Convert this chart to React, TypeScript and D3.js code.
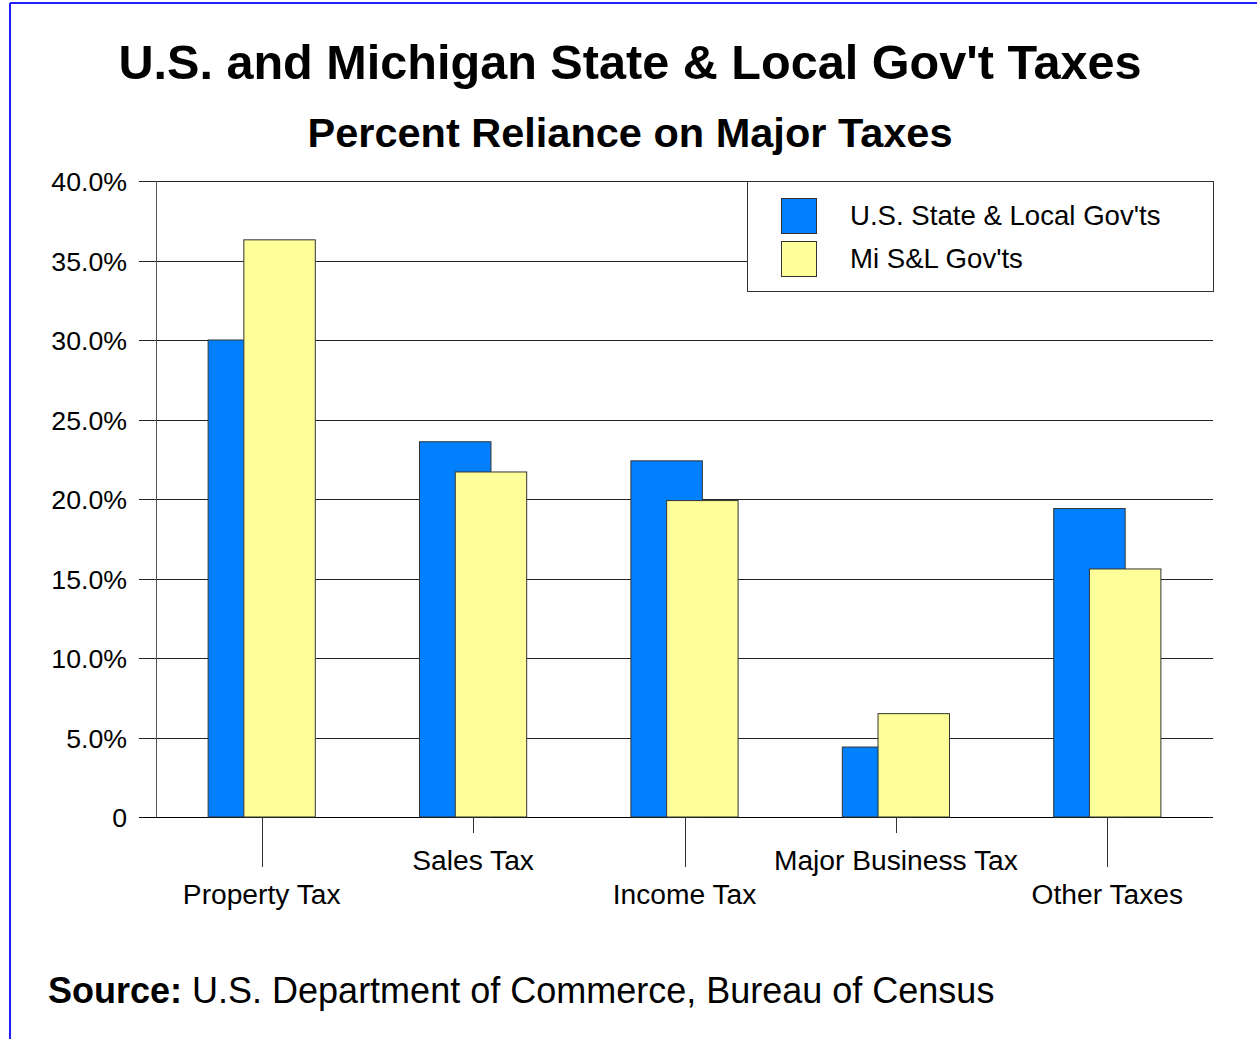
import React from 'react';
import * as d3 from 'd3';

const categories = ['Property Tax', 'Sales Tax', 'Income Tax', 'Major Business Tax', 'Other Taxes'];
const usValues = [30.0, 23.6, 22.4, 4.4, 19.4];
const miValues = [36.3, 21.7, 19.9, 6.5, 15.6];
const seriesNames = ["U.S. State & Local Gov'ts", "Mi S&L Gov'ts"];
const yTicks = [0, 5, 10, 15, 20, 25, 30, 35, 40];

const width = 1257;
const height = 1039;
const plot = { left: 156, right: 1213, top: 181, bottom: 817 };
const blue = '#0080ff';
const yellow = '#ffff99';
const font = 'Liberation Sans, Arial, sans-serif';

const fmt = (v: number) => (v === 0 ? '0' : `${v.toFixed(1)}%`);

const App = () => {
  const x = d3.scaleBand<string>().domain(categories).range([plot.left, plot.right]).padding(0);
  const y = d3.scaleLinear().domain([0, 40]).range([plot.bottom, plot.top]);
  const bw = x.bandwidth() * 0.338;
  const center = (c: string) => (x(c) as number) + x.bandwidth() / 2;

  return (
    <svg
      width={width}
      height={height}
      style={{ position: 'absolute', top: 0, left: 0, background: '#fff' }}
      fontFamily={font}
    >
      <rect x={0} y={0} width={width} height={height} fill="#fff" />
      {/* frame, only top and left visible */}
      <line x1={10} y1={3} x2={width} y2={3} stroke="#2020ff" strokeWidth={2} />
      <line x1={10} y1={3} x2={10} y2={height} stroke="#2020ff" strokeWidth={2} />

      <text x={630} y={79} textAnchor="middle" fontSize={48.6} fontWeight="bold">
        U.S. and Michigan State &amp; Local Gov't Taxes
      </text>
      <text x={630} y={147} textAnchor="middle" fontSize={41.5} fontWeight="bold">
        Percent Reliance on Major Taxes
      </text>

      {/* gridlines and y ticks */}
      {yTicks.map(t => (
        <g key={t} transform={`translate(0, ${Math.round(y(t)) + 0.5})`}>
          <line x1={139} x2={plot.right} stroke={t === 0 ? '#000' : '#222'} strokeWidth={1} />
          <text x={127} dy="0.35em" textAnchor="end" fontSize={26.7}>
            {fmt(t)}
          </text>
        </g>
      ))}
      <line x1={plot.left + 0.5} x2={plot.left + 0.5} y1={plot.top} y2={plot.bottom} stroke="#555" />

      {/* bars */}
      {categories.map((c, i) => (
        <g key={c}>
          <rect
            x={center(c) - 0.75 * bw}
            y={y(usValues[i])}
            width={bw}
            height={y(0) - y(usValues[i])}
            fill={blue}
            stroke="#333"
            strokeWidth={1}
          />
          <rect
            x={center(c) - 0.25 * bw}
            y={y(miValues[i])}
            width={bw}
            height={y(0) - y(miValues[i])}
            fill={yellow}
            stroke="#333"
            strokeWidth={1}
          />
        </g>
      ))}

      {/* x ticks & labels, staggered */}
      {categories.map((c, i) => {
        const lower = i % 2 === 0;
        const cx = Math.round(center(c)) + 0.5;
        return (
          <g key={c}>
            <line x1={cx} x2={cx} y1={plot.bottom} y2={plot.bottom + (lower ? 50 : 16)} stroke="#333" />
            <text x={center(c)} y={lower ? 904 : 870} textAnchor="middle" fontSize={28.2}>
              {c}
            </text>
          </g>
        );
      })}

      {/* legend */}
      <g>
        <rect x={747.5} y={181.5} width={466} height={110} fill="#fff" stroke="#333" />
        {seriesNames.map((s, i) => (
          <g key={s} transform={`translate(0, ${i * 43})`}>
            <rect x={781.5} y={198.5} width={35} height={35} fill={i === 0 ? blue : yellow} stroke="#333" />
            <text x={850} y={215} dy="0.35em" fontSize={27.6}>
              {s}
            </text>
          </g>
        ))}
      </g>

      <text x={48} y={1003} fontSize={36}>
        <tspan fontWeight="bold">Source:</tspan> U.S. Department of Commerce, Bureau of Census
      </text>
    </svg>
  );
};

export default App;
